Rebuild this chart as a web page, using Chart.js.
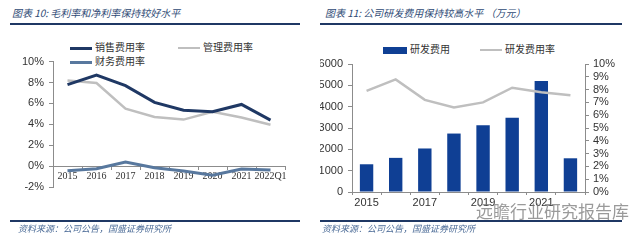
<!DOCTYPE html>
<html>
<head>
<meta charset="utf-8">
<script src="https://cdn.jsdelivr.net/npm/chart.js@4.4.0/dist/chart.umd.min.js"></script>
<style>
  body { margin: 0; background: #fff; width: 640px; height: 241px; overflow: hidden; position: relative; font-family: "Noto Sans CJK SC", sans-serif; }
  .title { position: absolute; top: 5px; font-size: 10px; font-style: italic; color: #2e4a75; white-space: nowrap; }
  .rule { position: absolute; height: 2px; background: #1f3864; }
  .foot { position: absolute; font-size: 9px; font-style: italic; color: #4a6a96; white-space: nowrap; }
  .leg { position: absolute; font-size: 10px; color: #333; white-space: nowrap; line-height: 12px; }
  .leg i { display: inline-block; vertical-align: middle; margin-right: 3px; }
  canvas { position: absolute; }
  .wm { position: absolute; left: 476px; top: 198px; font-size: 17px; color: rgba(120,120,120,0.75); white-space: nowrap; }
</style>
</head>
<body>
<div class="title" style="left:12px">图表 10: 毛利率和净利率保持较好水平</div>
<div class="rule" style="left:10px; top:23px; width:290px"></div>
<div class="title" style="left:325px">图表 11: 公司研发费用保持较高水平 （万元）</div>
<div class="rule" style="left:320px; top:23px; width:302px"></div>

<div class="leg" style="left:70px; top:41px"><i style="width:22px;height:3px;background:#1f3864"></i>销售费用率</div>
<div class="leg" style="left:178px; top:41px"><i style="width:22px;height:2px;background:#bfbfbf"></i>管理费用率</div>
<div class="leg" style="left:70px; top:55px"><i style="width:22px;height:3px;background:#58789e"></i>财务费用率</div>

<div class="leg" style="left:383px; top:43px"><i style="width:24px;height:7px;background:#0f3f94"></i>研发费用</div>
<div class="leg" style="left:480px; top:43px"><i style="width:22px;height:2px;background:#bfbfbf"></i>研发费用率</div>

<canvas id="left" width="300" height="150" style="left:0; top:50px; width:300px; height:150px"></canvas>
<canvas id="right" width="310" height="160" style="left:320px; top:50px; width:310px; height:160px"></canvas>

<div class="rule" style="left:10px; top:220px; width:290px; height:1.5px"></div>
<div class="foot" style="left:18px; top:222px">资料来源：公司公告，国盛证券研究所</div>
<div class="rule" style="left:320px; top:220px; width:302px; height:1.5px"></div>
<div class="foot" style="left:322px; top:222px">资料来源：公司公告，国盛证券研究所</div>
<div class="wm">远瞻行业研究报告库</div>

<script>
// Chart 10 data (%)
const years = ['2015', '2016', '2017', '2018', '2019', '2020', '2021', '2022Q1'];
const salesRate = [7.8, 8.7, 7.7, 6.1, 5.35, 5.2, 5.9, 4.4];
const adminRate = [8.2, 7.95, 5.5, 4.7, 4.45, 5.2, 4.65, 3.95];
const financeRate = [-0.45, -0.25, 0.4, -0.15, -0.47, -0.88, -0.28, -0.38];

// Chart 11 data
const rdYears = ['2015', '2016', '2017', '2018', '2019', '2020', '2021', '2022Q1'];
const rdExpense = [1300, 1600, 2040, 2740, 3130, 3480, 5200, 1580];   // 万元
const rdRate = [7.9, 8.8, 7.2, 6.6, 7.0, 8.15, 7.8, 7.55];            // %

const axisColor = '#8c8c8c';
const tickFont = { family: 'Liberation Sans, Arial, sans-serif', size: 11 };

/**
 * Left chart: expense ratios
 */
new Chart(document.getElementById('left'), {
  type: 'line',
  data: {
    labels: years,
    datasets: [
      { label: '销售费用率', data: salesRate, borderColor: '#1f3864', borderWidth: 3 },
      { label: '管理费用率', data: adminRate, borderColor: '#bfbfbf', borderWidth: 2.5 },
      { label: '财务费用率', data: financeRate, borderColor: '#58789e', borderWidth: 3 }
    ]
  },
  options: {
    responsive: false,
    animation: false,
    elements: { point: { radius: 0 }, line: { tension: 0 } },
    layout: { padding: { top: 10, right: 15, bottom: 13, left: 0 } },
    plugins: { legend: { display: false }, tooltip: { enabled: false } },
    scales: {
      x: {
        position: { y: 0 },
        offset: true,
        grid: { drawOnChartArea: false, offset: true, tickLength: 3, color: axisColor },
        border: { color: axisColor },
        ticks: { color: '#333', padding: 1, maxRotation: 0, autoSkip: false,
          font: { family: 'Liberation Serif, Times New Roman, serif', size: 10 } }
      },
      y: {
        min: -2, max: 10,
        afterFit: scale => { scale.width = 53; },
        grid: { drawOnChartArea: false, tickLength: 4, color: axisColor },
        border: { color: axisColor },
        ticks: { stepSize: 2, color: '#333', padding: 5, font: tickFont,
          callback: v => v + '%' }
      }
    }
  }
});

/**
 * Right chart: R&D expense and ratio
 */
new Chart(document.getElementById('right'), {
  type: 'bar',
  data: {
    labels: rdYears,
    datasets: [
      { type: 'line', label: '研发费用率', data: rdRate, yAxisID: 'y2', order: 0,
        borderColor: '#bfbfbf', borderWidth: 2.5, pointRadius: 0, tension: 0 },
      { label: '研发费用', data: rdExpense, yAxisID: 'y', order: 1,
        backgroundColor: '#0f3f94', barPercentage: 0.46, categoryPercentage: 1 }
    ]
  },
  options: {
    responsive: false,
    animation: false,
    layout: { padding: { top: 14, right: 0, bottom: 0, left: 0 } },
    plugins: { legend: { display: false }, tooltip: { enabled: false } },
    scales: {
      x: {
        afterFit: scale => { scale.height = 18; },
        grid: { drawOnChartArea: false, tickLength: 3, color: axisColor },
        border: { color: axisColor },
        ticks: { color: '#333', padding: 1, maxRotation: 0, autoSkip: false, font: tickFont,
          callback: function(v, i) { return i % 2 === 0 ? this.getLabelForValue(v) : ''; } }
      },
      y: {
        min: 0, max: 6000,
        afterFit: scale => { scale.width = 32; },
        grid: { drawOnChartArea: false, tickLength: 4, color: axisColor },
        border: { color: axisColor },
        ticks: { stepSize: 1000, color: '#333', padding: 5, font: tickFont, autoSkip: false,
          callback: v => String(v) }
      },
      y2: {
        position: 'right',
        min: 0, max: 10,
        afterFit: scale => { scale.width = 45; },
        grid: { drawOnChartArea: false, tickLength: 4, color: axisColor },
        border: { color: axisColor },
        ticks: { stepSize: 1, color: '#333', padding: 4, font: tickFont, autoSkip: false,
          callback: v => v + '%' }
      }
    }
  }
});
</script>
</body>
</html>
